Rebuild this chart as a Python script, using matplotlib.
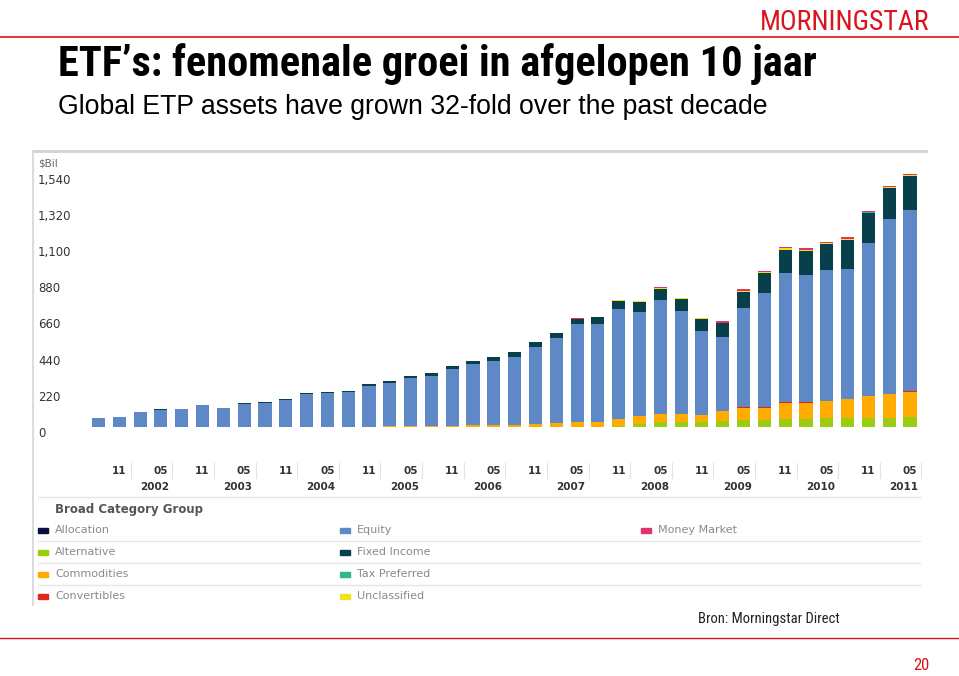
import matplotlib
matplotlib.use("Agg")
import matplotlib.pyplot as plt
from matplotlib.lines import Line2D
from matplotlib.patches import Rectangle
import numpy as np

# quarterly snapshots Aug 2001 .. May 2011, $Bil
period_month = ["08", "11", "02", "05"] * 10
allocation = [0] * 36 + [1, 1, 1, 1]
alternative = [0] * 22 + [0, 1, 2, 6, 18, 28, 30, 30, 34, 45, 45, 48, 51, 55, 55, 55, 56, 60]
commodities = [0, 0, 0, 0, 0, 0, 0, 1, 1, 1, 1, 2, 2, 3, 4, 5, 6, 7, 10, 13,
               14, 20, 26, 30, 30, 42, 48, 49, 47, 40, 61, 73, 72, 100, 97, 103, 112, 131, 141, 154]
convertibles = [0] * 29 + [1, 2, 2, 3, 2, 2, 2, 3, 2, 2, 2]
equity = [53, 62, 92, 106, 109, 132, 115, 141, 146, 166, 200, 204, 212, 249, 266, 290, 304, 345, 372, 388,
          413, 468, 513, 594, 594, 668, 634, 695, 631, 514, 448, 601, 692, 784, 775, 795, 789, 927, 1066, 1104]
fixed_income = [0, 1, 1, 3, 2, 2, 2, 2, 3, 3, 4, 5, 6, 8, 12, 15, 18, 18, 20, 26,
                26, 28, 32, 33, 40, 52, 62, 69, 71, 71, 85, 101, 122, 144, 146, 156, 176, 182, 186, 203]
unclassified = [0] * 20 + [1, 1, 1, 1, 1, 2, 2, 3, 3, 4, 5, 6, 6, 7, 6, 5, 7, 5, 7, 6]
tax_preferred = [0] * 33 + [1, 1, 1, 1, 1, 1, 1]
money_market = [0] * 18 + [1, 1, 1, 1, 1, 2, 2, 2, 3, 4, 4, 5, 9, 10, 8, 8, 7, 6, 8, 6, 6, 6]

y_ticks = [0, 220, 440, 660, 880, 1100, 1320, 1540]
years = ["2002", "2003", "2004", "2005", "2006", "2007", "2008", "2009", "2010", "2011"]

series = [
    ("Allocation", allocation, "#0b0f3f"),
    ("Alternative", alternative, "#9acd12"),
    ("Commodities", commodities, "#ffab00"),
    ("Convertibles", convertibles, "#e3261b"),
    ("Equity", equity, "#5e88c6"),
    ("Fixed Income", fixed_income, "#07404b"),
    ("Unclassified", unclassified, "#f2e21a"),
    ("Tax Preferred", tax_preferred, "#34b38c"),
    ("Money Market", money_market, "#e0336e"),
]

W, H = 959, 676
fig = plt.figure(figsize=(W / 100, H / 100), dpi=100)


def fx(x):
    return x / W


def fy(y):
    return 1 - y / H


narrow = ["Roboto Condensed", "Archivo Narrow", "DejaVu Sans"]
red = "#d9141c"

# header / footer
fig.add_artist(Line2D([0, 1], [fy(37), fy(37)], color=red, lw=1.2))
fig.add_artist(Line2D([0, 1], [fy(638), fy(638)], color=red, lw=1.0))
fig.text(fx(930), fy(22), "MORNINGSTAR", color=red, family=narrow, fontsize=20,
         ha="right", va="center")
fig.text(fx(58), fy(64), "ETF\u2019s: fenomenale groei in afgelopen 10 jaar", family=narrow,
         fontsize=30.5, fontweight="bold", va="center")
fig.text(fx(58), fy(107), "Global ETP assets have grown 32-fold over the past decade",
         family=["Liberation Sans", "DejaVu Sans"], fontsize=19.2, va="center")
fig.text(fx(840), fy(619), "Bron: Morningstar Direct", family=narrow, fontsize=10.5,
         ha="right", va="center", color="#222222")
fig.text(fx(930), fy(666), "20", family=narrow, fontsize=12, ha="right", va="center", color=red)

# chart frame
fig.add_artist(Line2D([fx(33), fx(926)], [fy(151), fy(151)], color="#d2d2d2", lw=2))
fig.add_artist(Line2D([fx(33), fx(33)], [fy(151), fy(605)], color="#dcdcdc", lw=1.5))

# bar axes
ymax = 1580
px_per_unit = 36.2 / 220
x_left = 98.5 - 0.8 * 20.8
x_right = 910 + 0.6 * 20.8
ax = fig.add_axes([fx(x_left), fy(427), (x_right - x_left) / W, ymax * px_per_unit / H])

x = np.arange(len(equity))
bottom = np.zeros(len(equity))
for name, vals, col in series:
    ax.bar(x, vals, width=0.63, bottom=bottom, color=col, linewidth=0)
    bottom += np.array(vals)

ax.set_xlim(-0.8, len(equity) - 0.4)
ax.set_ylim(0, ymax)
for s in ax.spines.values():
    s.set_visible(False)

ax.set_yticks(y_ticks)
ax.set_yticklabels([f"{v:,}" for v in y_ticks], fontsize=8.5, color="#333333")
ax.tick_params(axis="y", length=0, pad=(98.5 - 0.8 * 20.8 - 38) * 0.72)
for lab in ax.get_yticklabels():
    lab.set_ha("left")
    lab.set_va("top")
fig.text(fx(38), fy(163), "$Bil", fontsize=7.5, color="#666666", va="center")

label_idx = [i for i in range(len(period_month)) if period_month[i] in ("11", "05")]
ax.set_xticks(label_idx)
ax.set_xticklabels([period_month[i] for i in label_idx], fontsize=7.5, fontweight="bold",
                   color="#333333")
ax.tick_params(axis="x", length=0, pad=28)

may_idx = [i for i in range(len(period_month)) if period_month[i] == "05"]
for i, yr in zip(may_idx, years):
    ax.annotate(yr, xy=(i, 0), xycoords=("data", "axes fraction"), xytext=(6, -43),
                textcoords="offset points", ha="right", va="center", fontsize=7.5,
                fontweight="bold", color="#333333", annotation_clip=False)
# faint separators next to the period labels
for i in label_idx:
    ax.plot([i + 0.55, i + 0.55], [-0.138, -0.196], transform=ax.get_xaxis_transform(),
            color="#e2e2e2", lw=0.8, clip_on=False)

# legend block
fig.add_artist(Line2D([fx(38), fx(920)], [fy(497), fy(497)], color="#e6e6e6", lw=1))
for yy in (541, 563, 585):
    fig.add_artist(Line2D([fx(38), fx(920)], [fy(yy), fy(yy)], color="#e6e6e6", lw=1))
fig.text(fx(55), fy(510), "Broad Category Group", fontsize=8.5, fontweight="bold",
         color="#555555", va="center")

legend_slots = {
    "Allocation": (38, 530), "Alternative": (38, 552), "Commodities": (38, 574),
    "Convertibles": (38, 596), "Equity": (340, 530), "Fixed Income": (340, 552),
    "Tax Preferred": (340, 574), "Unclassified": (340, 596), "Money Market": (641, 530),
}
for name, vals, col in series:
    lx, ly = legend_slots[name]
    fig.add_artist(Rectangle((fx(lx), fy(ly + 2.5)), 10 / W, 5 / H, color=col,
                             transform=fig.transFigure))
    fig.text(fx(lx + 17), fy(ly), name, fontsize=8, color="#8a8a8a", va="center")

fig.savefig("out.png", dpi=100)
